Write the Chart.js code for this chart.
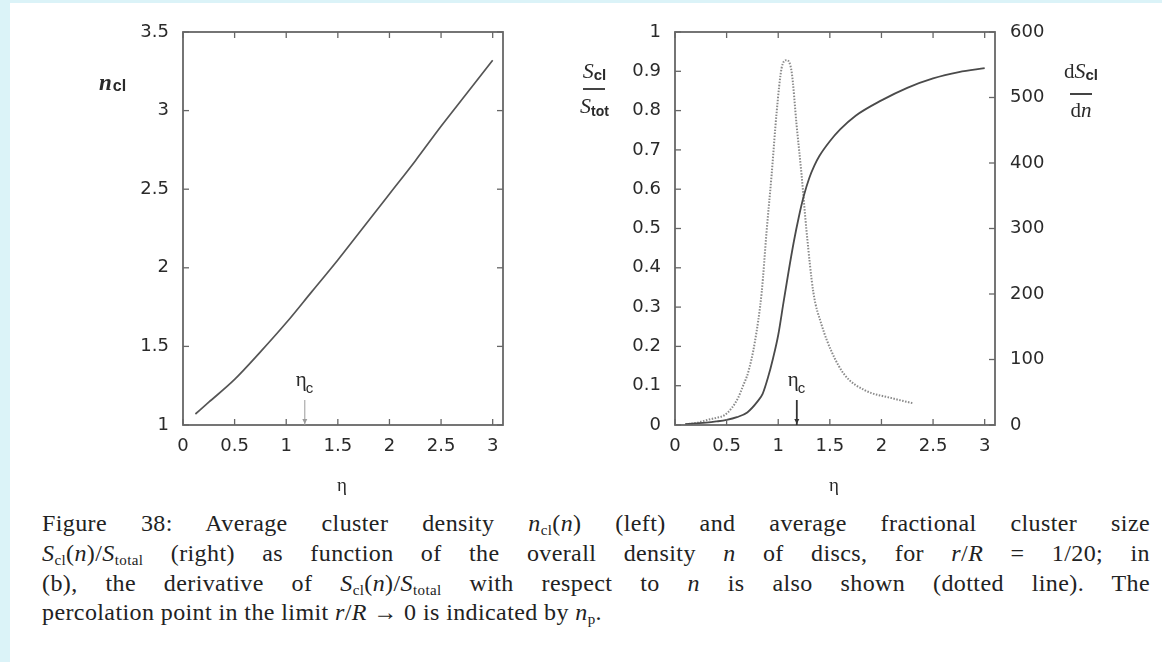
<!DOCTYPE html>
<html>
<head>
<meta charset="utf-8">
<script src="https://cdn.jsdelivr.net/npm/chart.js@4.4.1/dist/chart.umd.min.js"></script>
<style>
  html, body { margin:0; padding:0; background:#ffffff; }
  body { width:1162px; height:662px; position:relative; overflow:hidden; font-family:'Liberation Sans', Arial, sans-serif; }
  #stripL { position:absolute; left:0; top:0; width:10px; height:662px; background:#dbf3f8; }
  #stripT { position:absolute; left:0; top:0; width:1162px; height:3px; background:#dbf3f8; }
  canvas { position:absolute; top:0; }
  #c1 { left:0; }
  #c2 { left:560px; }
  .lbl { position:absolute; color:#2a2a2a; white-space:nowrap; }
  .it { font-family:'Liberation Serif', serif; font-style:italic; }
  .sb { font-family:'Liberation Sans', sans-serif; font-weight:bold; }
  .frac { position:absolute; display:flex; flex-direction:column; align-items:center; color:#2a2a2a; }
  .bar { height:2px; background:#444; margin:4px 0 3px 0; }
  .cap { position:absolute; left:42px; width:1108px; font-family:'Liberation Serif', 'Times New Roman', serif; font-size:24px; color:#222; letter-spacing:0.4px; text-align:justify; text-align-last:justify; white-space:nowrap; }
  .cap.last { text-align-last:left; }
  .cap i { font-style:italic; }
  .cap sub { font-size:15px; vertical-align:-4px; line-height:0; }
</style>
</head>
<body>
<div id="stripL"></div><div id="stripT"></div>
<canvas id="c1" width="560" height="500"></canvas>
<canvas id="c2" width="602" height="500"></canvas>

<!-- axis titles -->
<div class="lbl" style="left:99px; top:70px;"><span class="it" style="font-size:23px;font-weight:bold;">n</span><span class="sb" style="font-size:16px;position:relative;top:1px;margin-left:1px;">cl</span></div>
<div class="lbl" style="left:337px; top:474px; font-family:'Liberation Serif',serif; font-size:19px;">η</div>
<div class="lbl" style="left:829px; top:474px; font-family:'Liberation Serif',serif; font-size:19px;">η</div>

<div class="frac" style="left:580px; top:58px;">
  <div><span class="it" style="font-size:22px;">S</span><span class="sb" style="font-size:15px;position:relative;top:2px;">cl</span></div>
  <div class="bar" style="width:22px;"></div>
  <div><span class="it" style="font-size:22px;">S</span><span class="sb" style="font-size:14px;position:relative;top:3px;">tot</span></div>
</div>
<div class="frac" style="left:1064px; top:58px;">
  <div><span style="font-family:'Liberation Serif',serif;font-size:21px;">d</span><span class="it" style="font-size:22px;">S</span><span class="sb" style="font-size:15px;position:relative;top:2px;">cl</span></div>
  <div class="bar" style="width:22px;margin-top:9px;"></div>
  <div><span style="font-family:'Liberation Serif',serif;font-size:21px;">d</span><span class="it" style="font-size:21px;">n</span></div>
</div>

<!-- caption -->
<div class="cap" style="top:510px;">Figure 38: Average cluster density <i>n</i><sub>cl</sub>(<i>n</i>) (left) and average fractional cluster size</div>
<div class="cap" style="top:540px;"><i>S</i><sub>cl</sub>(<i>n</i>)/<i>S</i><sub>total</sub> (right) as function of the overall density <i>n</i> of discs, for <i>r</i>/<i>R</i> = 1/20; in</div>
<div class="cap" style="top:570px;">(b), the derivative of <i>S</i><sub>cl</sub>(<i>n</i>)/<i>S</i><sub>total</sub> with respect to <i>n</i> is also shown (dotted line). The</div>
<div class="cap last" style="top:599px;">percolation point in the limit <i>r</i>/<i>R</i> → 0 is indicated by <i>n</i><sub>p</sub>.</div>

<script>
// ---------- data ----------
const etaLeft = [0.12, 0.25, 0.5, 0.75, 1.0, 1.25, 1.5, 1.75, 2.0, 2.25, 2.5, 2.75, 3.0];
const nClusterDensity = [1.07, 1.145, 1.29, 1.465, 1.65, 1.85, 2.05, 2.26, 2.47, 2.68, 2.9, 3.11, 3.32];

const etaFrac = [0.1, 0.2, 0.3, 0.4, 0.5, 0.6, 0.7, 0.8, 0.85, 0.9, 0.95, 1.0, 1.05, 1.1, 1.15, 1.2, 1.25, 1.3, 1.35, 1.4, 1.5, 1.6, 1.75, 2.0, 2.25, 2.5, 2.75, 3.0];
const sFraction = [0.002, 0.004, 0.006, 0.009, 0.013, 0.02, 0.032, 0.06, 0.08, 0.12, 0.17, 0.229, 0.31, 0.39, 0.465, 0.53, 0.585, 0.628, 0.66, 0.685, 0.722, 0.752, 0.787, 0.826, 0.858, 0.882, 0.898, 0.908];

const etaDeriv = [0.1, 0.2, 0.32, 0.4, 0.48, 0.55, 0.61, 0.66, 0.71, 0.774, 0.84, 0.887, 0.936, 0.985, 1.033, 1.08, 1.13, 1.178, 1.226, 1.275, 1.34, 1.42, 1.517, 1.646, 1.84, 2.1, 2.31];
const dSdn = [1, 3, 8, 11, 15, 26, 41, 60, 81, 127, 203, 295, 382, 478, 545, 557, 539, 458, 382, 295, 203, 153, 112, 76, 53, 41, 33];

const xTicks = [0, 0.5, 1, 1.5, 2, 2.5, 3];
const yTicksLeft = [1, 1.5, 2, 2.5, 3, 3.5];
const yTicksFrac = [0, 0.1, 0.2, 0.3, 0.4, 0.5, 0.6, 0.7, 0.8, 0.9, 1];
const yTicksDeriv = [0, 100, 200, 300, 400, 500, 600];
const etaCritical = 1.18;

// ---------- helpers ----------
const AX = '#666666';
const TXT = '#2a2a2a';
const tickFont = { family: "'DejaVu Sans', Verdana, sans-serif", size: 18 };
const pts = (xs, ys) => xs.map((x, i) => ({ x: x, y: ys[i] }));
const setTicks = arr => (s => { s.ticks = arr.map(v => ({ value: v })); });

function line(ctx, x1, y1, x2, y2) { ctx.beginPath(); ctx.moveTo(x1, y1); ctx.lineTo(x2, y2); ctx.stroke(); }

const framePlugin = {
  id: 'frame',
  afterDraw(chart, args, opts) {
    const { ctx, chartArea: a, scales } = chart;
    const L = 6;
    ctx.save();
    ctx.strokeStyle = AX; ctx.lineWidth = 1.8;
    ctx.strokeRect(a.left, a.top, a.right - a.left, a.bottom - a.top);
    ctx.lineWidth = 1.3;
    scales.x.ticks.forEach(t => {
      const p = scales.x.getPixelForValue(t.value);
      line(ctx, p, a.bottom, p, a.bottom - L);
      line(ctx, p, a.top, p, a.top + L);
    });
    const yl = scales.y;
    yl.ticks.forEach(t => {
      const p = yl.getPixelForValue(t.value);
      line(ctx, a.left, p, a.left + L, p);
      if (!scales.y2) line(ctx, a.right, p, a.right - L, p);
    });
    if (scales.y2) {
      scales.y2.ticks.forEach(t => {
        const p = scales.y2.getPixelForValue(t.value);
        line(ctx, a.right, p, a.right - L, p);
      });
    }
    // eta_c marker
    const xc = scales.x.getPixelForValue(opts.eta);
    ctx.strokeStyle = opts.arrowColor; ctx.lineWidth = opts.arrowWidth;
    line(ctx, xc, a.bottom - 25, xc, a.bottom);
    ctx.fillStyle = opts.arrowColor;
    ctx.beginPath(); ctx.moveTo(xc - 2.5, a.bottom - 6); ctx.lineTo(xc + 2.5, a.bottom - 6); ctx.lineTo(xc, a.bottom - 1); ctx.closePath(); ctx.fill();
    ctx.fillStyle = TXT;
    ctx.textBaseline = 'alphabetic'; ctx.textAlign = 'left';
    ctx.font = "21px 'Liberation Serif', serif";
    ctx.fillText('η', xc - 9, a.bottom - 39);
    ctx.font = "15px 'Liberation Sans', sans-serif";
    ctx.fillText('c', xc + 1, a.bottom - 32);
    ctx.restore();
  }
};

const baseX = {
  type: 'linear', min: 0, max: 3.1,
  afterBuildTicks: setTicks(xTicks),
  grid: { display: false, drawTicks: false }, border: { display: false },
  ticks: { color: TXT, font: tickFont, padding: 11, maxRotation: 0, autoSkip: false, callback: v => String(v) },
  afterFit: s => { s.height = 75; }
};

// ---------- left chart ----------
new Chart(document.getElementById('c1'), {
  type: 'line',
  data: { datasets: [{
    data: pts(etaLeft, nClusterDensity),
    borderColor: '#555555', borderWidth: 1.7, pointRadius: 0, cubicInterpolationMode: 'monotone', fill: false
  }] },
  options: {
    responsive: false, animation: false, devicePixelRatio: 1,
    layout: { padding: { top: 32, right: 57, left: 0, bottom: 0 } },
    plugins: { legend: { display: false }, tooltip: { enabled: false },
      frame: { eta: etaCritical, arrowColor: '#9a9a9a', arrowWidth: 1 } },
    scales: {
      x: baseX,
      y: {
        type: 'linear', min: 1, max: 3.5,
        afterBuildTicks: setTicks(yTicksLeft),
        grid: { display: false, drawTicks: false }, border: { display: false },
        ticks: { color: TXT, font: tickFont, padding: 14, callback: v => String(v) },
        afterFit: s => { s.width = 183; }
      }
    }
  },
  plugins: [framePlugin]
});

// ---------- right chart ----------
new Chart(document.getElementById('c2'), {
  type: 'line',
  data: { datasets: [
    { data: pts(etaFrac, sFraction), yAxisID: 'y',
      borderColor: '#4a4a4a', borderWidth: 1.8, pointRadius: 0, cubicInterpolationMode: 'monotone', fill: false },
    { data: pts(etaDeriv, dSdn), yAxisID: 'y2',
      borderColor: '#8a8a8a', borderWidth: 2, borderDash: [1.5, 1.5], pointRadius: 0, cubicInterpolationMode: 'monotone', fill: false }
  ] },
  options: {
    responsive: false, animation: false, devicePixelRatio: 1,
    layout: { padding: { top: 32, right: 0, left: 0, bottom: 0 } },
    plugins: { legend: { display: false }, tooltip: { enabled: false },
      frame: { eta: etaCritical, arrowColor: '#333333', arrowWidth: 1.8 } },
    scales: {
      x: baseX,
      y: {
        type: 'linear', position: 'left', min: 0, max: 1,
        afterBuildTicks: setTicks(yTicksFrac),
        grid: { display: false, drawTicks: false }, border: { display: false },
        ticks: { color: TXT, font: tickFont, padding: 14, callback: v => String(v) },
        afterFit: s => { s.width = 115; }
      },
      y2: {
        type: 'linear', position: 'right', min: 0, max: 600,
        afterBuildTicks: setTicks(yTicksDeriv),
        grid: { display: false, drawTicks: false }, border: { display: false },
        ticks: { color: TXT, font: tickFont, padding: 15, callback: v => String(v) },
        afterFit: s => { s.width = 167; }
      }
    }
  },
  plugins: [framePlugin]
});
</script>
</body>
</html>
